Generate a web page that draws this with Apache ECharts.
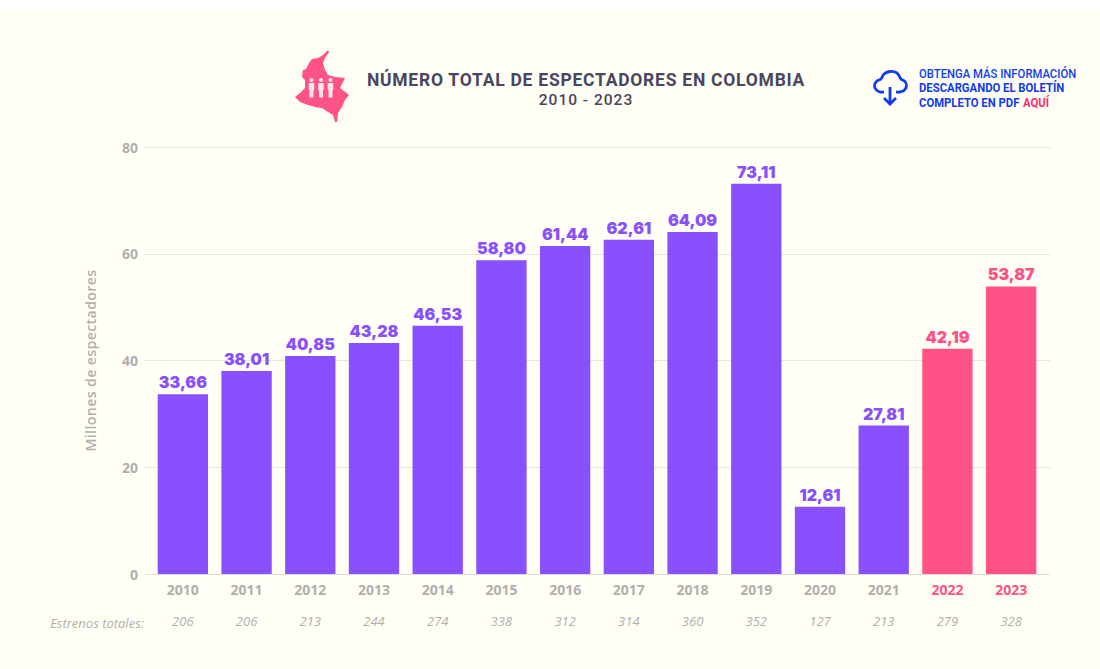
<!DOCTYPE html>
<html>
<head>
<meta charset="utf-8">
<script src="https://cdn.jsdelivr.net/npm/echarts@6/dist/echarts.min.js"></script>
<style>
html, body { margin: 0; padding: 0; background: #fffff6; }
#main { width: 1100px; height: 669px; }
/* espaciado del titulo, solo posible con el renderer svg */
#main text[style*="17.5px"] { letter-spacing: 0.75px; }
#main text[style*="15.5px"] { letter-spacing: 1px; }
#main text[style*="14.1px"] { letter-spacing: 0.4px; }
</style>
</head>
<body>
<div id="main"></div>
<script>
var years = ['2010', '2011', '2012', '2013', '2014', '2015', '2016', '2017', '2018', '2019', '2020', '2021', '2022', '2023'];
var spectators = [33.66, 38.01, 40.85, 43.28, 46.53, 58.80, 61.44, 62.61, 64.09, 73.11, 12.61, 27.81, 42.19, 53.87];
var releases = ['206', '206', '213', '244', '274', '338', '312', '314', '360', '352', '127', '213', '279', '328'];
var highlighted = ['2022', '2023'];

var PURPLE = '#8950ff';
var PINK = '#ff5286';
var GRAY = '#b1afae';
var DARK = '#4a4560';
var BLUE = '#0f3cf0';

function colorOf(year) {
    return highlighted.indexOf(year) >= 0 ? PINK : PURPLE;
}

var chart = echarts.init(document.getElementById('main'), null, { renderer: 'svg' });

// silueta de Colombia
var mapShape = [[328, 50], [323, 55], [318, 58], [312, 59], [309, 63], [306, 69], [303, 70], [302, 77], [305, 80], [305, 88], [300, 93], [295, 97], [300, 102], [308, 105], [315, 107], [322, 108], [328, 112], [333, 115], [335, 122], [337, 122], [338, 113], [342, 107], [345, 100], [349, 95], [340, 88], [345, 78], [335, 77], [328, 75], [325, 70], [323, 63], [325, 58], [329, 52]];

var people = [];
[311.5, 321, 330.5].forEach(function (x) {
    people.push({ type: 'circle', shape: { cx: x, cy: 80, r: 2 }, style: { fill: '#ffe6ee' } });
    people.push({ type: 'rect', shape: { x: x - 2.8, y: 83, width: 5.6, height: 7 }, style: { fill: '#ffe6ee' } });
    people.push({ type: 'rect', shape: { x: x - 2, y: 90, width: 4, height: 7.5 }, style: { fill: '#ffe6ee' } });
});

var cloudShape = [[884, 92], [880, 92], [876, 89.5], [874.5, 85], [877, 81], [881, 79], [884, 74], [890, 71.5], [897, 73], [901, 79], [905, 81.5], [906.5, 86], [904, 90.5], [900, 92], [896, 92]];

var infoScale = 0.927;

var option = {
    backgroundColor: '#fffff6',
    animation: false,
    title: {
        text: 'NÚMERO TOTAL DE ESPECTADORES EN COLOMBIA',
        subtext: '2010 - 2023',
        left: 581,
        top: 66,
        textAlign: 'center',
        itemGap: 3,
        textStyle: { fontFamily: 'Roboto', fontWeight: 'bold', fontSize: 17.5, color: DARK },
        subtextStyle: { fontFamily: 'Roboto', fontWeight: 500, fontSize: 15.5, color: DARK }
    },
    grid: [
        { left: 145, right: 50, top: 147, height: 427 },
        { left: 151, width: 892, top: 147, height: 427 }
    ],
    xAxis: [
        {
            type: 'category',
            gridIndex: 0,
            data: years,
            axisLine: { lineStyle: { color: '#dfdedb', width: 1 } },
            axisTick: { show: false },
            axisLabel: { show: false }
        },
        {
            type: 'category',
            gridIndex: 1,
            data: years,
            axisLine: { show: false },
            axisTick: { show: false },
            axisLabel: {
                margin: 8,
                fontFamily: 'Open Sans',
                fontWeight: 'bold',
                fontSize: 14,
                color: function (value) {
                    return highlighted.indexOf(value) >= 0 ? PINK : GRAY;
                }
            }
        },
        {
            type: 'category',
            gridIndex: 1,
            position: 'bottom',
            offset: 32,
            data: releases,
            axisLine: { show: false },
            axisTick: { show: false },
            axisLabel: {
                margin: 8,
                interval: 0,
                fontFamily: 'Open Sans',
                fontStyle: 'italic',
                fontSize: 13,
                color: GRAY
            }
        }
    ],
    yAxis: [
        {
            type: 'value',
            gridIndex: 0,
            min: 0,
            max: 80,
            interval: 20,
            name: 'Millones de espectadores',
            nameLocation: 'middle',
            nameGap: 48,
            nameTextStyle: { fontFamily: 'Open Sans', fontWeight: 600, fontSize: 14.1, color: GRAY },
            axisLine: { show: false },
            axisTick: { show: false },
            axisLabel: { margin: 7, fontFamily: 'Open Sans', fontWeight: 'bold', fontSize: 14, color: GRAY },
            splitLine: { lineStyle: { color: '#e6e5e1', width: 1 } }
        },
        {
            type: 'value',
            gridIndex: 1,
            min: 0,
            max: 80,
            interval: 20,
            show: false
        }
    ],
    series: [
        {
            type: 'bar',
            xAxisIndex: 1,
            yAxisIndex: 1,
            barWidth: '79%',
            data: spectators.map(function (v, i) {
                return {
                    value: v,
                    itemStyle: { color: colorOf(years[i]) },
                    label: { color: colorOf(years[i]) }
                };
            }),
            label: {
                show: true,
                position: 'top',
                distance: 4,
                fontFamily: 'Inter',
                fontWeight: 900,
                fontSize: 16,
                formatter: function (p) {
                    return p.value.toFixed(2).replace('.', ',');
                }
            }
        }
    ],
    graphic: [
        { type: 'rect', shape: { x: 0, y: 0, width: 1100, height: 10 }, style: { fill: '#ffffff' } },
        { type: 'polygon', shape: { points: mapShape }, style: { fill: PINK } }
    ].concat(people).concat([
        { type: 'polyline', shape: { points: cloudShape, smooth: 0.35 }, style: { stroke: BLUE, lineWidth: 2.8, fill: 'none' } },
        { type: 'polyline', shape: { points: [[890, 87], [890, 104]] }, style: { stroke: BLUE, lineWidth: 2.8, fill: 'none' } },
        { type: 'polyline', shape: { points: [[884, 98], [890, 104], [896, 98]] }, style: { stroke: BLUE, lineWidth: 2.8, fill: 'none' } },
        { type: 'text', x: 919, y: 68, scaleX: infoScale, style: { text: 'OBTENGA MÁS INFORMACIÓN', fill: BLUE, font: '500 12.2px Roboto' } },
        { type: 'text', x: 919, y: 82, scaleX: infoScale, style: { text: 'DESCARGANDO EL BOLETÍN', fill: BLUE, font: 'bold 12.2px Roboto' } },
        { type: 'text', x: 919, y: 96.5, scaleX: infoScale, style: { text: 'COMPLETO EN PDF', fill: BLUE, font: 'bold 12.2px Roboto' } },
        { type: 'text', x: 1023, y: 96.5, scaleX: infoScale, style: { text: 'AQUÍ', fill: '#ff2d6b', font: 'bold 12.2px Roboto' } },
        { type: 'text', x: 144, y: 623, style: { text: 'Estrenos totales:', fill: GRAY, font: 'italic 13px "Open Sans"', textAlign: 'right', textVerticalAlign: 'middle' } }
    ])
};

chart.setOption(option);
</script>
</body>
</html>
